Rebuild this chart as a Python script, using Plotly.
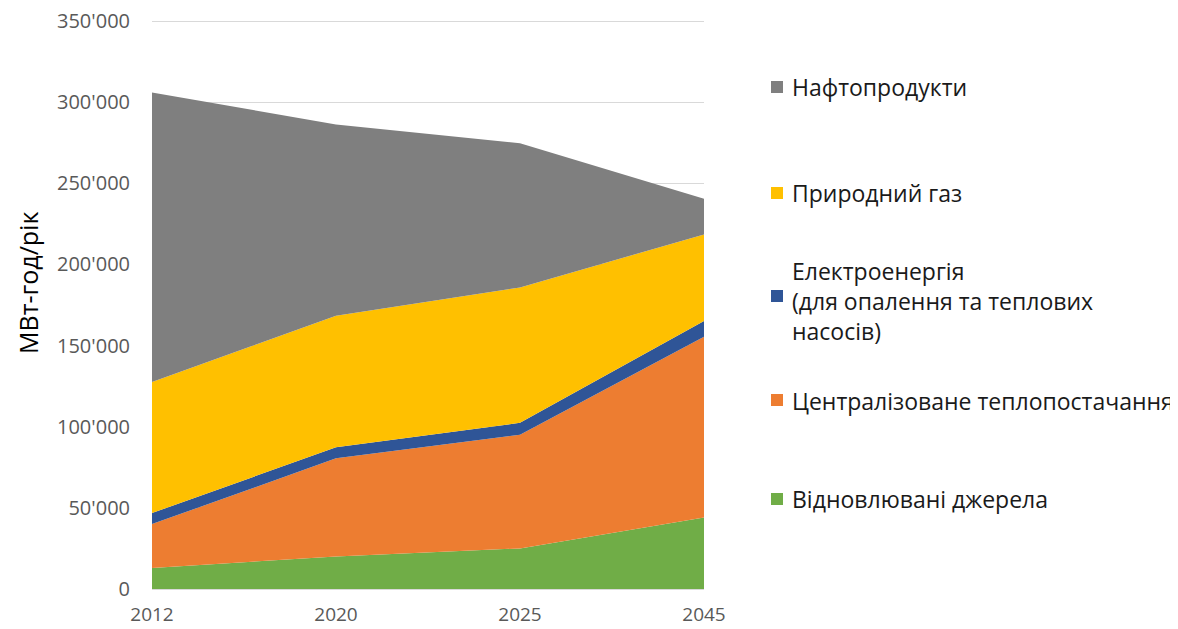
import plotly.graph_objects as go

years = ["2012", "2020", "2025", "2045"]
renewables = [13000, 20000, 25000, 44000]
district_heat = [27000, 60500, 70000, 111500]
electricity = [6800, 6800, 7400, 9600]
natural_gas = [80700, 81100, 83400, 53400]
oil_products = [178500, 117900, 88900, 22000]

series_names = [
    "Відновлювані джерела",
    "Централізоване теплопостачання",
    "Електроенергія<br>(для опалення та теплових<br>насосів)",
    "Природний газ",
    "Нафтопродукти",
]
series_values = [renewables, district_heat, electricity, natural_gas, oil_products]
colors = ["#70AD47", "#ED7D31", "#2F5597", "#FFC000", "#7F7F7F"]

y_tickvals = [0, 50000, 100000, 150000, 200000, 250000, 300000, 350000]
y_ticktext = ["0", "50'000", "100'000", "150'000", "200'000", "250'000", "300'000", "350'000"]
y_title = "МВт-год/рік"

FONT = "Open Sans"

# page-pixel geometry (the page body adds an 8px offset)
PX_L, PX_R, PX_B = 152, 704, 589
PX_350 = 21          # where the 350'000 gridline sits
PX_T = 16            # plot top a few px above it so the gridline is drawn
OFF = 8
W, H = 1178, 629
Y_MAX = 350000 * (PX_B - PX_T) / (PX_B - PX_350)


def px(xp):
    return (xp - PX_L) / (PX_R - PX_L)


def py(yp):
    return (PX_B - yp) / (PX_B - PX_T)


fig = go.Figure()
for name, vals, col in zip(series_names, series_values, colors):
    fig.add_trace(go.Scatter(
        x=years, y=vals, name=name, mode="lines",
        line=dict(width=0, color=col), fillcolor=col,
        stackgroup="one", showlegend=False, hoverinfo="x+y+name",
    ))

# custom legend (right side)
legend_y = {4: 87, 3: 193, 2: 301, 1: 401, 0: 499}
square_y = {4: 87, 3: 193, 2: 296, 1: 400, 0: 499}
for i in range(5):
    yc = square_y[i]
    fig.add_shape(type="rect", xref="paper", yref="paper",
                  x0=px(771), x1=px(783), y0=py(yc + 6), y1=py(yc - 6),
                  line=dict(width=0), fillcolor=colors[i])
    fig.add_annotation(xref="paper", yref="paper",
                       x=px(790), y=py(legend_y[i]),
                       xanchor="left", yanchor="middle", align="left",
                       text=series_names[i], showarrow=False,
                       font=dict(family=FONT, size=23, color="#1a1a1a"))

fig.add_annotation(xref="paper", yref="paper", x=px(28), y=py(283),
                   text=y_title, textangle=-90, showarrow=False,
                   xanchor="center", yanchor="middle",
                   font=dict(family=FONT, size=25, color="#000000"))

fig.update_layout(
    width=W, height=H,
    margin=dict(l=PX_L - OFF, r=W - (PX_R - OFF), t=PX_T - OFF, b=H - (PX_B - OFF),
                autoexpand=False),
    paper_bgcolor="white", plot_bgcolor="white",
    font=dict(family=FONT, color="#595959", size=20),
    showlegend=False,
    xaxis=dict(type="category", range=[0, 3], showgrid=False, zeroline=False,
               automargin=False, ticklabeloverflow="allow",
               showline=True, linecolor="#D9D9D9", linewidth=1,
               ticks="outside", ticklen=8, tickcolor="rgba(0,0,0,0)",
               tickfont=dict(family=FONT, size=19, color="#595959")),
    yaxis=dict(range=[0, Y_MAX], tickvals=y_tickvals, ticktext=y_ticktext,
               automargin=False, ticklabeloverflow="allow",
               showgrid=True, gridcolor="#D9D9D9", gridwidth=1, zeroline=False,
               showline=False, ticks="outside", ticklen=17, tickcolor="rgba(0,0,0,0)",
               tickfont=dict(family=FONT, size=20, color="#595959")),
)

fig.write_html("out.html")
